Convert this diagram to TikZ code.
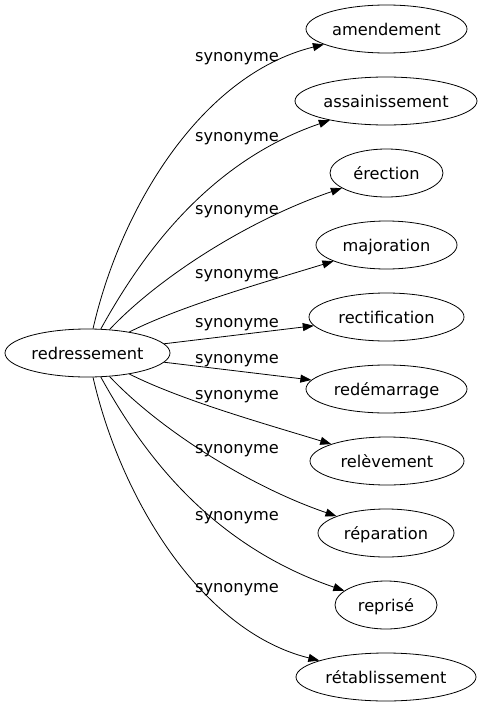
\documentclass[tikz,border=0pt]{standalone}
\usepackage{fontspec}
\setmainfont{DejaVu Sans}
\usetikzlibrary{shapes.geometric, arrows.meta}

\begin{document}
\begin{tikzpicture}[x=1pt, y=-1pt, font=\fontsize{16.2}{19}\selectfont,
        mot/.style={draw, ellipse, line width=0.8pt, minimum height=48pt, inner sep=0pt, text height=14pt, text depth=2pt},
        syn/.style={line width=0.8pt, -{Triangle[length=11pt, width=8pt]}},
        lab/.style={inner sep=0pt, text height=14pt, text depth=2pt}]
        \useasboundingbox (0, 0) rectangle (483, 707);

        \node[mot, minimum width=165pt] (redressement) at (87.5, 353) {redressement};

        \node[mot, minimum width=161pt] (amendement) at (386.5, 29) {amendement};
        \node[mot, minimum width=182pt] (assainissement) at (386, 101) {assainissement};
        \node[mot, minimum width=113pt] (erection) at (386.5, 173) {érection};
        \node[mot, minimum width=141pt] (majoration) at (386.5, 245) {majoration};
        \node[mot, minimum width=155pt] (rectification) at (386.5, 317) {rectification};
        \node[mot, minimum width=161pt] (redemarrage) at (386.5, 389) {redémarrage};
        \node[mot, minimum width=154pt] (relevement) at (387, 461) {relèvement};
        \node[mot, minimum width=136pt] (reparation) at (386, 533) {réparation};
        \node[mot, minimum width=102pt] (reprise) at (386, 605) {reprisé};
        \node[mot, minimum width=180pt] (retablissement) at (386, 677) {rétablissement};

        \draw[syn] (redressement) .. controls (120, 210) and (200, 75) .. (amendement);
        \draw[syn] (redressement) .. controls (139, 260) and (205, 163) .. (assainissement);
        \draw[syn] (redressement) .. controls (158, 278) and (248, 220) .. (erection);
        \draw[syn] (redressement) .. controls (181, 306) and (262, 283) .. (majoration);
        \draw[syn] (redressement) -- (rectification);
        \draw[syn] (redressement) -- (redemarrage);
        \draw[syn] (redressement) .. controls (181, 400) and (262, 423) .. (relevement);
        \draw[syn] (redressement) .. controls (158, 428) and (248, 486) .. (reparation);
        \draw[syn] (redressement) .. controls (139, 446) and (205, 543) .. (reprise);
        \draw[syn] (redressement) .. controls (120, 496) and (200, 631) .. (retablissement);

        \node[lab] (s1) at (237, 55) {synonyme};
        \node[lab] (s2) at (237, 135) {synonyme};
        \node[lab] (s3) at (237, 208) {synonyme};
        \node[lab] (s4) at (237, 272) {synonyme};
        \node[lab] (s5) at (237, 321) {synonyme};
        \node[lab] (s6) at (237, 357) {synonyme};
        \node[lab] (s7) at (237, 393) {synonyme};
        \node[lab] (s8) at (237, 447) {synonyme};
        \node[lab] (s9) at (237, 514) {synonyme};
        \node[lab] (s10) at (237, 586) {synonyme};
\end{tikzpicture}
\end{document}
